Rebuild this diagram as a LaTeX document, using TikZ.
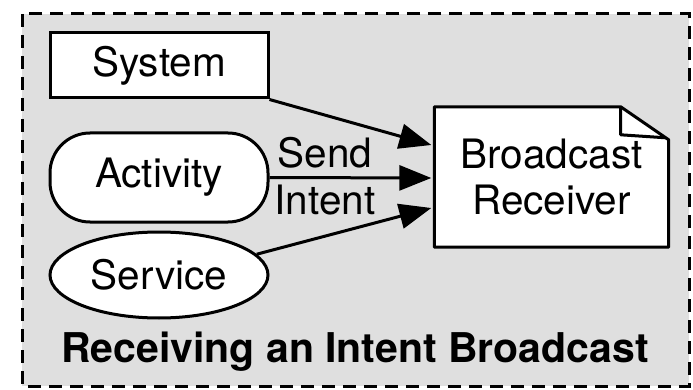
\documentclass[tikz,border=0pt]{standalone}
\usepackage{fontspec}
\setmainfont{TeX Gyre Heros}
\usetikzlibrary{arrows.meta,shapes.geometric}
\definecolor{panelgrey}{HTML}{DFDFDF}
\tikzset{
  outline/.style={draw=black, line width=3pt, fill=white},
  lbl/.style={font=\fontsize{40.5}{46}\selectfont, inner sep=0pt},
  flow/.style={line width=3pt, -{Triangle[length=32pt,width=25pt]}},
}
\begin{document}
\begin{tikzpicture}[x=1pt, y=-1pt]
\useasboundingbox (0,0) rectangle (693,390);
% dashed grey panel
\draw[fill=panelgrey, line width=3pt, dash pattern=on 13pt off 8pt]
  (22,14) rectangle (689,386);

% senders
\node[outline, lbl, rectangle, minimum width=218pt, minimum height=65pt]
  (sys) at (159,65.5) {System};
\node[outline, lbl, rectangle, rounded corners=40pt, minimum width=218pt, minimum height=89pt]
  (act) at (159,177.5) {Activity};
\node[outline, lbl, ellipse, inner sep=0pt, minimum width=218pt, minimum height=86pt]
  (serv) at (159,275) {Service};

% receiver drawn as a document with a folded corner
\node[lbl, rectangle, minimum width=234pt, minimum height=140pt, align=center]
  (recv) at (551.5,177) {};
\draw[outline, line join=round]
  (recv.south west) -- (recv.north west) -- ([xshift=-48pt]recv.north east)
  -- ([yshift=-33pt]recv.north east) -- (recv.south east) -- cycle;
\draw[line width=3pt, line join=round]
  ([xshift=-48pt]recv.north east) -- ([xshift=-48pt,yshift=-28pt]recv.north east)
  -- ([xshift=-3pt,yshift=-31pt]recv.north east);
\node[lbl, align=center] at (recv.center) {Broadcast\\Receiver};

% connectors
\draw[flow] (sys.south east) -- ([xshift=-3pt,yshift=32pt]recv.west);
\draw[flow] (act.east) -- ([xshift=-3pt,yshift=-1pt]recv.west);
\draw[flow] (serv.12) -- ([xshift=-3pt,yshift=-31pt]recv.west);

\node[lbl] (send) at (325,153) {Send};
\node[lbl] (intent) at (325,200) {Intent};

% caption
\node[lbl, font=\fontsize{41}{46}\selectfont\bfseries] (title) at (355,352)
  {Receiving an Intent Broadcast};
\end{tikzpicture}
\end{document}
